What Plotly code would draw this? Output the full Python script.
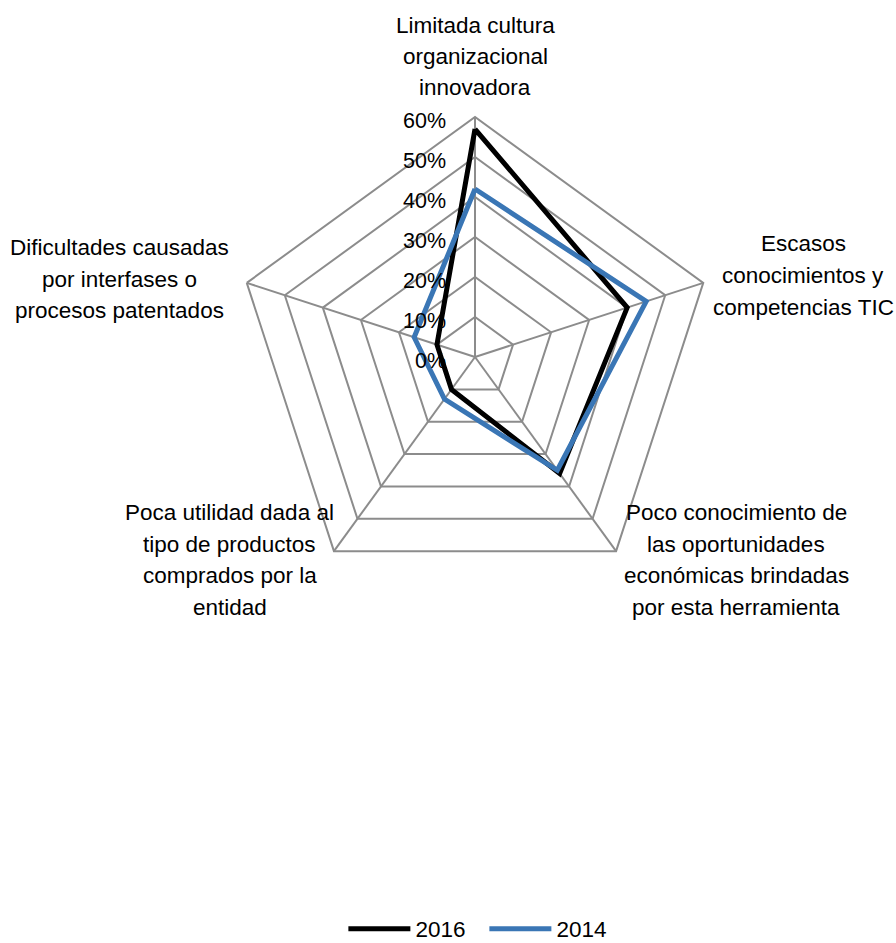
import plotly.graph_objects as go

# Category labels (clockwise from the top)
categories = [
    "Limitada cultura<br>organizacional<br>innovadora",
    "Escasos<br>conocimientos y<br>competencias TIC",
    "Poco conocimiento de<br>las oportunidades<br>económicas brindadas<br>por esta herramienta",
    "Poca utilidad dada al<br>tipo de productos<br>comprados por la<br>entidad",
    "Dificultades causadas<br>por interfases o<br>procesos patentados",
]

# Share of respondents per barrier (%)
values_2016 = [57, 40, 36, 10, 10]
values_2014 = [42, 45, 35, 13, 16]

radial_ticks = [0, 10, 20, 30, 40, 50, 60]
radial_labels = [f"{t}%" for t in radial_ticks]

FONT = "Liberation Sans, Arial, sans-serif"
GRID = "#8c8c8c"
W, H = 896, 943
LINE_STEP = 31.5  # px between label lines

# Where each category label block is centred (pixels from top-left)
label_centres = [(475, 56.5), (803, 275.5), (736, 560), (230, 560), (119, 279)]


def closed(seq):
    return list(seq) + [seq[0]]


fig = go.Figure()
fig.add_trace(go.Scatterpolar(
    r=closed(values_2016), theta=closed(categories), mode="lines",
    name="2016", line=dict(color="#000000", width=5),
))
fig.add_trace(go.Scatterpolar(
    r=closed(values_2014), theta=closed(categories), mode="lines",
    name="2014", line=dict(color="#3A76B5", width=5),
))

# Category labels, one line at a time so the leading can be set
for text, (px, py) in zip(categories, label_centres):
    lines = text.split("<br>")
    n = len(lines)
    for i, line in enumerate(lines):
        ly = py + (i - (n - 1) / 2) * LINE_STEP
        fig.add_annotation(
            text=line, x=px / W, y=1 - ly / H, xref="paper", yref="paper",
            xanchor="center", yanchor="middle", align="center", showarrow=False,
            font=dict(family=FONT, size=22.5, color="#000000"),
        )

fig.update_layout(
    width=W, height=H,
    margin=dict(l=0, r=0, t=0, b=0, autoexpand=False),
    paper_bgcolor="white",
    font=dict(family=FONT, size=22, color="#000000"),
    polar=dict(
        domain=dict(x=[0.2623, 0.7980], y=[0.3669, 0.8759]),
        gridshape="linear",
        bgcolor="white",
        radialaxis=dict(
            range=[0, 60], tickvals=radial_ticks, ticktext=radial_labels,
            angle=90, side="counterclockwise", showline=False,
            gridcolor=GRID, gridwidth=2,
            ticks="outside", ticklen=9, tickcolor="rgba(0,0,0,0)",
            tickfont=dict(family=FONT, size=21.5, color="#000000"),
        ),
        angularaxis=dict(
            direction="clockwise", rotation=90,
            showline=True, linecolor=GRID, linewidth=2,
            gridcolor=GRID, gridwidth=2, ticks="", showticklabels=False,
        ),
    ),
    showlegend=True,
    legend=dict(
        orientation="h", x=0.5406, xanchor="center", y=-0.008, yanchor="bottom",
        font=dict(family=FONT, size=22.5, color="#000000"),
        itemwidth=62, entrywidth=64, bgcolor="rgba(0,0,0,0)",
    ),
)

fig.write_html("out.html")
